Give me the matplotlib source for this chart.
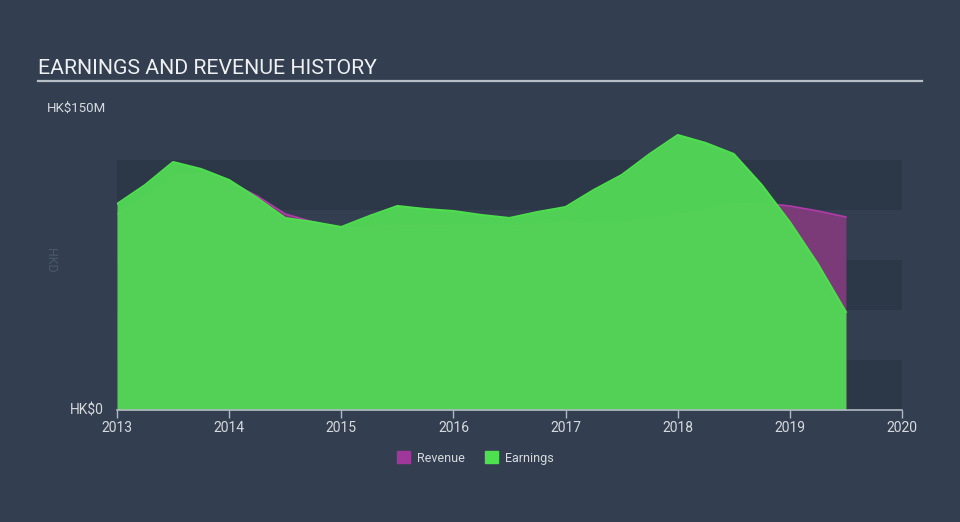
import matplotlib.pyplot as plt
from matplotlib.patches import Patch
import numpy as np

# quarterly points, HK$ millions
years = [2013.0, 2013.25, 2013.5, 2013.75, 2014.0, 2014.25, 2014.5, 2014.75,
         2015.0, 2015.25, 2015.5, 2015.75, 2016.0, 2016.25, 2016.5, 2016.75,
         2017.0, 2017.25, 2017.5, 2017.75, 2018.0, 2018.25, 2018.5, 2018.75,
         2019.0, 2019.25, 2019.5]
revenue = [98, 106, 117, 118, 114, 107, 98, 94,
           91, 91.5, 92, 92.5, 92, 92, 92, 93,
           93.5, 93, 93, 95, 97.5, 100, 103, 103.5,
           102, 99.5, 96.5]
earnings = [103, 112.5, 124, 120.5, 115, 106, 96, 94,
            91.5, 97, 102, 100.5, 99.5, 97.5, 96, 99,
            101.5, 110, 117.5, 128, 137.5, 133.5, 128, 112.5,
            94, 73, 49]
xticks = [2013, 2014, 2015, 2016, 2017, 2018, 2019, 2020]

bg = '#333f50'
band = '#2c3847'
rev_fill = '#7b3a78'
rev_line = '#b43aab'
earn_fill = '#52d655'
earn_line = '#4ddf4d'

plt.rcParams['font.family'] = ['Roboto', 'DejaVu Sans']

fig = plt.figure(figsize=(9.6, 5.22), dpi=100, facecolor=bg)
ax = fig.add_axes([117/960, 1 - 410/522, (902-117)/960, 300/522])
ax.set_facecolor(bg)

for lo in [0, 50, 100]:
    ax.axhspan(lo, lo + 25, color=band, lw=0, zorder=0)

x = np.array(years)
ax.fill_between(x, 0, revenue, color=rev_fill, lw=0, zorder=1)
ax.plot(x, revenue, color=rev_line, lw=1.2, zorder=1.5)
ax.fill_between(x, 0, earnings, color=earn_fill, lw=0, alpha=0.97, zorder=2)
ax.plot(x, earnings, color=earn_line, lw=1.5, zorder=2.5)

ax.set_xlim(2013, 2020)
ax.set_ylim(0, 150)
for s in ['top', 'right', 'left']:
    ax.spines[s].set_visible(False)
ax.spines['bottom'].set_color('#b0b8c2')
ax.spines['bottom'].set_linewidth(1.2)
ax.set_yticks([])
ax.set_xticks(xticks)
ax.set_xticklabels([str(t) for t in xticks])
ax.tick_params(axis='x', colors='#b0b8c2', labelcolor='#d6dade', labelsize=10,
               length=6, width=1, pad=2)

# title and underline
fig.text(38/960, 1 - 68/522, 'EARNINGS AND REVENUE HISTORY', color='#eef0f2',
         fontsize=15.3, va='center', ha='left')
fig.add_artist(plt.Line2D([38/960, 922/960], [1 - 81/522, 1 - 81/522],
                          color='#b8bec6', lw=1.6))

# y labels
fig.text(47/960, 1 - 108/522, 'HK$150M', color='#d6dade', fontsize=9.5,
         va='center', ha='left')
fig.text(104/960, 1 - 410/522, 'HK$0', color='#d6dade', fontsize=10,
         va='center', ha='right')
fig.text(50/960, 1 - 260/522, 'HKD', color='#4a586c', fontsize=9,
         va='center', ha='center', rotation=-90)

handles = [Patch(color='#a0379a', label='Revenue'),
           Patch(color='#4fe04f', label='Earnings')]
fig.legend(handles=handles, loc='center', bbox_to_anchor=(475/960, 1 - 458/522),
           ncol=2, frameon=False, fontsize=9, labelcolor='#d6dade',
           handlelength=1.1, handleheight=1.1, columnspacing=1.6, handletextpad=0.5)

fig.savefig('out.png', dpi=100, facecolor=bg)
